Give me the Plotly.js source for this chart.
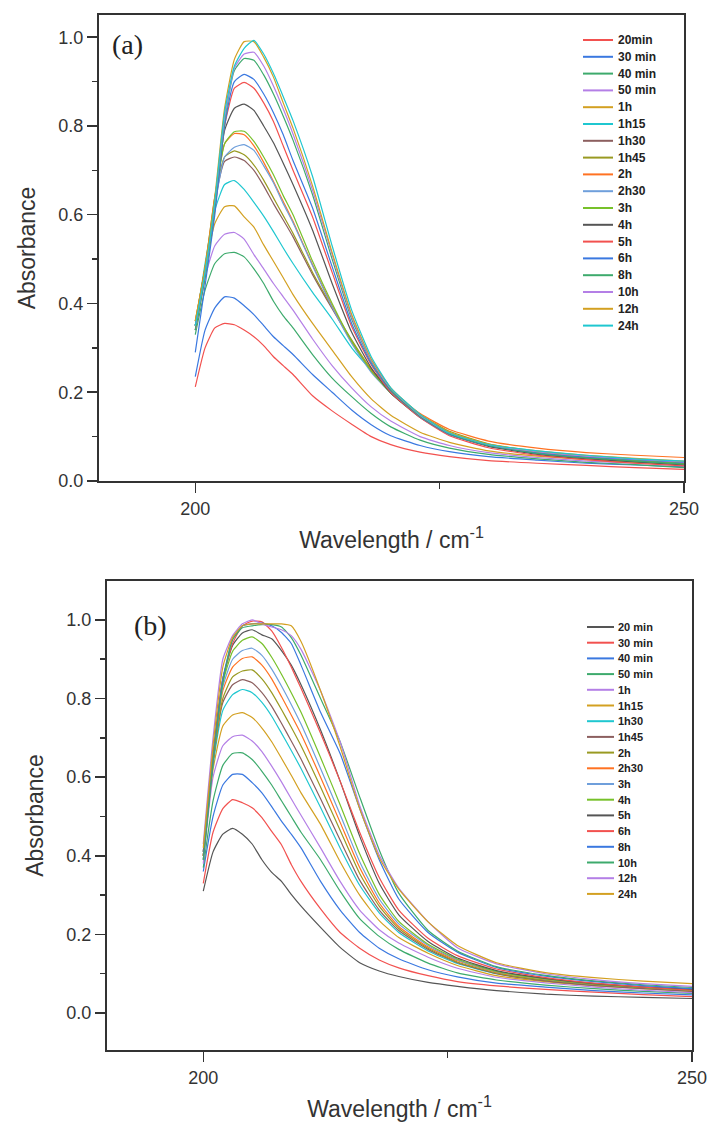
<!DOCTYPE html>
<html><head><meta charset="utf-8">
<script src="https://cdn.plot.ly/plotly-3.0.1.min.js"></script>
<style>html,body{margin:0;padding:0;background:#fff}#chart{width:708px;height:1128px}</style>
</head><body><div id="chart"></div>
<script>
// wavelength sample points (nm) shared by every spectrum
const wavelength = [200,201,202,203,204,205,206,207,208,209,210,212,214,216,218,220,223,226,230,235,240,245,250];

// ---- panel (a) ----
const labelsA = ["20min","30 min","40 min","50 min","1h","1h15","1h30","1h45","2h","2h30","3h","4h","5h","6h","8h","10h","12h","24h"];
const a_20min = [0.212,0.300,0.345,0.355,0.352,0.340,0.325,0.305,0.280,0.260,0.240,0.192,0.158,0.128,0.100,0.082,0.065,0.055,0.046,0.040,0.035,0.030,0.026];
const a_30min = [0.235,0.340,0.390,0.415,0.412,0.395,0.375,0.350,0.325,0.305,0.285,0.240,0.200,0.160,0.127,0.102,0.080,0.066,0.055,0.047,0.040,0.036,0.032];
const a_40min = [0.330,0.430,0.490,0.512,0.515,0.505,0.478,0.445,0.405,0.372,0.345,0.285,0.232,0.190,0.152,0.122,0.092,0.074,0.060,0.050,0.042,0.037,0.030];
const a_50min = [0.340,0.460,0.530,0.556,0.560,0.545,0.510,0.478,0.445,0.415,0.385,0.320,0.260,0.210,0.167,0.135,0.100,0.080,0.064,0.053,0.045,0.040,0.035];
const a_1h    = [0.350,0.480,0.580,0.618,0.620,0.595,0.572,0.532,0.495,0.458,0.420,0.355,0.295,0.235,0.185,0.148,0.110,0.087,0.068,0.056,0.048,0.042,0.037];
const a_1h15  = [0.350,0.490,0.610,0.668,0.677,0.657,0.628,0.597,0.562,0.525,0.490,0.425,0.365,0.300,0.250,0.208,0.148,0.108,0.080,0.062,0.053,0.047,0.040];
const a_1h30  = [0.350,0.470,0.630,0.720,0.730,0.722,0.700,0.665,0.625,0.588,0.550,0.465,0.388,0.315,0.250,0.205,0.148,0.108,0.080,0.062,0.052,0.045,0.039];
const a_1h45  = [0.360,0.480,0.640,0.730,0.744,0.735,0.712,0.678,0.638,0.598,0.558,0.470,0.392,0.318,0.252,0.205,0.150,0.112,0.084,0.065,0.054,0.047,0.041];
const a_2h    = [0.360,0.480,0.640,0.760,0.783,0.780,0.755,0.718,0.675,0.630,0.585,0.487,0.395,0.313,0.250,0.203,0.152,0.116,0.090,0.074,0.064,0.058,0.053];
const a_2h30  = [0.340,0.460,0.620,0.730,0.752,0.758,0.745,0.710,0.672,0.625,0.582,0.485,0.392,0.310,0.245,0.198,0.145,0.108,0.082,0.066,0.056,0.049,0.043];
const a_3h    = [0.350,0.470,0.630,0.760,0.787,0.788,0.765,0.730,0.690,0.643,0.600,0.495,0.400,0.315,0.248,0.198,0.145,0.108,0.082,0.064,0.054,0.047,0.040];
const a_4h    = [0.350,0.470,0.620,0.790,0.840,0.849,0.835,0.800,0.762,0.716,0.668,0.565,0.445,0.335,0.255,0.198,0.143,0.105,0.078,0.060,0.050,0.043,0.036];
const a_5h    = [0.340,0.460,0.610,0.800,0.885,0.898,0.885,0.852,0.810,0.755,0.700,0.595,0.470,0.348,0.262,0.200,0.143,0.102,0.075,0.058,0.048,0.040,0.034];
const a_6h    = [0.290,0.440,0.600,0.800,0.900,0.916,0.905,0.872,0.830,0.780,0.722,0.615,0.483,0.355,0.265,0.203,0.145,0.105,0.080,0.063,0.054,0.048,0.042];
const a_8h    = [0.340,0.460,0.620,0.810,0.925,0.952,0.948,0.915,0.872,0.822,0.768,0.645,0.500,0.365,0.270,0.205,0.146,0.106,0.080,0.062,0.052,0.045,0.038];
const a_10h   = [0.350,0.470,0.630,0.820,0.930,0.962,0.966,0.935,0.890,0.838,0.782,0.655,0.510,0.370,0.272,0.208,0.148,0.108,0.082,0.066,0.056,0.049,0.043];
const a_12h   = [0.360,0.480,0.640,0.840,0.950,0.990,0.990,0.955,0.910,0.852,0.795,0.665,0.515,0.375,0.275,0.210,0.150,0.110,0.083,0.068,0.058,0.051,0.045];
const a_24h   = [0.350,0.470,0.630,0.830,0.935,0.975,0.993,0.962,0.918,0.866,0.812,0.686,0.530,0.385,0.280,0.210,0.150,0.108,0.082,0.068,0.058,0.050,0.045];

// ---- panel (b) ----
const labelsB = ["20 min","30 min","40 min","50 min","1h","1h15","1h30","1h45","2h","2h30","3h","4h","5h","6h","8h","10h","12h","24h"];
const b_20min = [0.310,0.410,0.455,0.470,0.455,0.430,0.390,0.358,0.335,0.302,0.272,0.218,0.167,0.128,0.107,0.093,0.078,0.068,0.057,0.048,0.043,0.040,0.037];
const b_30min = [0.330,0.460,0.520,0.543,0.535,0.522,0.497,0.462,0.428,0.378,0.335,0.265,0.205,0.165,0.135,0.115,0.095,0.080,0.069,0.060,0.053,0.047,0.042];
const b_40min = [0.360,0.500,0.580,0.607,0.607,0.586,0.560,0.525,0.488,0.455,0.420,0.335,0.262,0.205,0.165,0.138,0.110,0.092,0.076,0.066,0.057,0.051,0.046];
const b_50min = [0.370,0.540,0.630,0.660,0.662,0.645,0.615,0.580,0.540,0.500,0.460,0.390,0.310,0.240,0.195,0.162,0.127,0.102,0.084,0.071,0.062,0.055,0.050];
const b_1h    = [0.380,0.600,0.680,0.703,0.707,0.692,0.665,0.628,0.588,0.545,0.503,0.420,0.335,0.262,0.212,0.178,0.142,0.114,0.091,0.077,0.066,0.058,0.052];
const b_1h15  = [0.390,0.620,0.730,0.758,0.764,0.752,0.725,0.690,0.648,0.605,0.560,0.480,0.385,0.300,0.235,0.192,0.152,0.121,0.095,0.080,0.070,0.062,0.056];
const b_1h30  = [0.400,0.630,0.770,0.810,0.823,0.815,0.790,0.755,0.712,0.668,0.622,0.523,0.420,0.325,0.255,0.205,0.158,0.126,0.100,0.083,0.072,0.064,0.057];
const b_1h45  = [0.400,0.640,0.790,0.835,0.848,0.840,0.815,0.780,0.737,0.692,0.646,0.545,0.440,0.338,0.262,0.210,0.162,0.128,0.100,0.082,0.070,0.062,0.055];
const b_2h    = [0.410,0.640,0.800,0.855,0.870,0.873,0.850,0.815,0.772,0.727,0.680,0.575,0.465,0.355,0.272,0.215,0.165,0.130,0.102,0.084,0.073,0.065,0.058];
const b_2h30  = [0.400,0.640,0.820,0.880,0.902,0.906,0.885,0.850,0.805,0.758,0.710,0.600,0.485,0.370,0.280,0.220,0.168,0.133,0.104,0.086,0.074,0.066,0.060];
const b_3h    = [0.410,0.650,0.830,0.900,0.922,0.928,0.910,0.875,0.832,0.785,0.735,0.622,0.505,0.385,0.290,0.227,0.172,0.135,0.105,0.087,0.075,0.067,0.061];
const b_4h    = [0.400,0.650,0.840,0.920,0.948,0.957,0.940,0.905,0.862,0.815,0.765,0.650,0.530,0.405,0.302,0.233,0.175,0.137,0.106,0.087,0.074,0.065,0.058];
const b_5h    = [0.410,0.660,0.850,0.935,0.967,0.975,0.962,0.952,0.922,0.885,0.835,0.720,0.590,0.450,0.330,0.250,0.182,0.140,0.108,0.088,0.075,0.066,0.060];
const b_6h    = [0.400,0.650,0.850,0.940,0.985,0.997,0.995,0.972,0.930,0.880,0.826,0.712,0.590,0.460,0.345,0.262,0.190,0.146,0.112,0.090,0.076,0.066,0.058];
const b_8h    = [0.390,0.640,0.850,0.950,0.985,0.990,0.992,0.985,0.968,0.940,0.885,0.765,0.660,0.520,0.390,0.290,0.205,0.155,0.116,0.094,0.080,0.070,0.062];
const b_10h   = [0.390,0.640,0.840,0.950,0.980,0.985,0.988,0.988,0.982,0.955,0.910,0.800,0.690,0.550,0.415,0.305,0.210,0.158,0.118,0.096,0.082,0.072,0.065];
const b_12h   = [0.430,0.700,0.900,0.960,0.990,1.000,0.990,0.982,0.975,0.960,0.925,0.820,0.690,0.528,0.402,0.318,0.232,0.166,0.125,0.100,0.085,0.075,0.068];
const b_24h   = [0.420,0.680,0.880,0.955,0.985,0.990,0.990,0.990,0.990,0.985,0.945,0.820,0.678,0.520,0.395,0.315,0.232,0.172,0.128,0.103,0.090,0.081,0.075];

const seriesA = [a_20min,a_30min,a_40min,a_50min,a_1h,a_1h15,a_1h30,a_1h45,a_2h,a_2h30,a_3h,a_4h,a_5h,a_6h,a_8h,a_10h,a_12h,a_24h];
const seriesB = [b_20min,b_30min,b_40min,b_50min,b_1h,b_1h15,b_1h30,b_1h45,b_2h,b_2h30,b_3h,b_4h,b_5h,b_6h,b_8h,b_10h,b_12h,b_24h];

// colour cycle (red, blue, green, purple, gold, cyan, brown, olive, orange, light blue, yellow-green, grey)
const palette = ["#f2514f","#3a78e0","#3daa6c","#b47fe6","#d3a021","#1fc7d0","#8c5f5f","#999a22","#ff7222","#6f9fdb","#77c12a","#555555"];
const colorsA = labelsA.map((_, i) => palette[i % 12]);
const colorsB = labelsB.map((_, i) => palette[(i + 11) % 12]);

const W = 708, H = 1128;
const traces = [];
seriesA.forEach((ys, i) => traces.push({x: wavelength, y: ys, xaxis: 'x', yaxis: 'y', mode: 'lines', name: labelsA[i],
  showlegend: false, line: {color: colorsA[i], width: 1.2, shape: 'spline', smoothing: 0.5}, hoverinfo: 'skip'}));
seriesB.forEach((ys, i) => traces.push({x: wavelength, y: ys, xaxis: 'x2', yaxis: 'y2', mode: 'lines', name: labelsB[i],
  showlegend: false, line: {color: colorsB[i], width: 1.2, shape: 'spline', smoothing: 0.5}, hoverinfo: 'skip'}));

const axisColor = '#333333';
const sans = 'Liberation Sans, Arial, sans-serif';
function xAxis(domain, anchor) {
  return {domain: domain, anchor: anchor, range: [190.15, 250], tickvals: [200, 250], ticktext: ['200', '250'],
    ticks: 'outside', ticklen: 10, tickwidth: 1.5, tickcolor: axisColor,
    minor: {tickvals: [225], ticks: 'outside', ticklen: 6, tickwidth: 1.5, tickcolor: axisColor},
    showline: true, linewidth: 2, linecolor: axisColor, mirror: true, showgrid: false, zeroline: false,
    tickfont: {family: sans, size: 18, color: '#333'},
    title: {text: 'Wavelength / cm<sup>-1</sup>', font: {family: sans, size: 23, color: '#333'}, standoff: 14}};
}
function yAxis(domain, anchor, range) {
  return {domain: domain, anchor: anchor, range: range, tick0: 0, dtick: 0.2, tickformat: '.1f',
    ticks: 'outside', ticklen: 10, tickwidth: 1.5, tickcolor: axisColor,
    minor: {dtick: 0.1, tick0: 0, ticks: 'outside', ticklen: 5, tickwidth: 1.5, tickcolor: axisColor},
    showline: true, linewidth: 2, linecolor: axisColor, mirror: true, showgrid: false, zeroline: false,
    tickfont: {family: sans, size: 18, color: '#333'},
    title: {text: 'Absorbance', font: {family: sans, size: 23, color: '#333'}, standoff: 16}};
}

const annotations = [
  {xref: 'paper', yref: 'paper', x: 127 / W, y: 1 - 44 / H, text: '(a)', showarrow: false, xanchor: 'center', yanchor: 'middle',
   font: {family: 'Liberation Serif, Times New Roman, serif', size: 28, color: '#222'}},
  {xref: 'paper', yref: 'paper', x: 150 / W, y: 1 - 625 / H, text: '(b)', showarrow: false, xanchor: 'center', yanchor: 'middle',
   font: {family: 'Liberation Serif, Times New Roman, serif', size: 28, color: '#222'}}
];
const shapes = [];
// hand-drawn style legends (tight row spacing as in the source figure)
function addLegend(labels, colors, top, step, x0, x1, xt, fsize) {
  labels.forEach((lab, i) => {
    const yy = 1 - (top + i * step) / H;
    shapes.push({type: 'line', xref: 'paper', yref: 'paper', x0: x0 / W, x1: x1 / W, y0: yy, y1: yy,
      line: {color: colors[i], width: 2}});
    annotations.push({xref: 'paper', yref: 'paper', x: xt / W, y: yy, text: lab, showarrow: false,
      xanchor: 'left', yanchor: 'middle', font: {family: sans, size: fsize, color: '#222', weight: 'bold'}});
  });
}
addLegend(labelsA, colorsA, 40, 16.8, 583, 613, 616, 12);
addLegend(labelsB, colorsB, 627, 15.7, 587, 614, 616, 11);

const layout = {
  width: W, height: H, margin: {l: 0, r: 0, t: 0, b: 0}, paper_bgcolor: '#fff', plot_bgcolor: '#fff',
  showlegend: false,
  xaxis: xAxis([99 / W, 684 / W], 'y'),
  yaxis: yAxis([1 - 481 / H, 1 - 15 / H], 'x', [0, 1.05]),
  xaxis2: xAxis([107 / W, 692 / W], 'y2'),
  yaxis2: yAxis([1 - 1050 / H, 1 - 581 / H], 'x2', [-0.094, 1.099]),
  annotations: annotations, shapes: shapes
};
Plotly.newPlot('chart', traces, layout, {staticPlot: true, displayModeBar: false});
</script></body></html>
